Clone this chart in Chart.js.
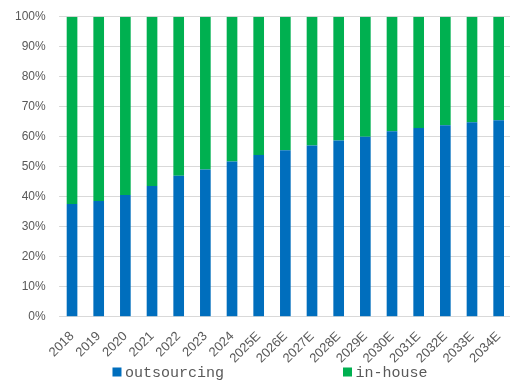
<!DOCTYPE html>
<html>
<head>
<meta charset="utf-8">
<script src="https://cdn.jsdelivr.net/npm/chart.js@4/dist/chart.umd.min.js"></script>
<style>
  html, body { margin: 0; padding: 0; background: #ffffff; }
  #wrap { width: 510px; height: 383px; overflow: hidden; position: relative; }
  canvas { display: block; }
</style>
</head>
<body>
<div id="wrap"><canvas id="c" width="514" height="383"></canvas></div>
<script>
// Share of outsourcing vs in-house, percent of total
const years = ['2018', '2019', '2020', '2021', '2022', '2023', '2024', '2025E', '2026E',
  '2027E', '2028E', '2029E', '2030E', '2031E', '2032E', '2033E', '2034E'];
const outsourcing = [37.6, 38.6, 40.6, 43.6, 47.0, 49.1, 51.7, 53.9, 55.5,
  57.1, 58.7, 60.0, 61.8, 62.9, 63.8, 64.8, 65.5];
const inHouse = [62.4, 61.4, 59.4, 56.4, 53.0, 50.9, 48.3, 46.1, 44.5,
  42.9, 41.3, 40.0, 38.2, 37.1, 36.2, 35.2, 34.5];
const yTicks = [0, 10, 20, 30, 40, 50, 60, 70, 80, 90, 100];

const BLUE = '#006EBD';
const GREEN = '#00B050';
const TEXT = '#595959';

// Legend drawn along the bottom edge: square marker + monospace label
const bottomLegend = {
  id: 'bottomLegend',
  afterDraw(chart, args, opts) {
    const ctx = chart.ctx;
    ctx.save();
    ctx.font = opts.font;
    ctx.textBaseline = 'middle';
    ctx.textAlign = 'left';
    const items = chart.data.datasets.map(ds => ({
      text: ds.label, color: ds.backgroundColor,
      w: opts.box + opts.textGap + ctx.measureText(ds.label).width
    }));
    const total = items.reduce((s, it) => s + it.w, 0) + opts.itemGap * (items.length - 1);
    let x = opts.centerX - total / 2;
    items.forEach(it => {
      ctx.fillStyle = it.color;
      ctx.fillRect(x, opts.y - opts.box / 2, opts.box, opts.box);
      ctx.fillStyle = opts.color;
      ctx.fillText(it.text, x + opts.box + opts.textGap, opts.y + 1);
      x += it.w + opts.itemGap;
    });
    ctx.restore();
  }
};

new Chart(document.getElementById('c'), {
  type: 'bar',
  data: {
    labels: years,
    datasets: [
      { label: 'outsourcing', data: outsourcing, backgroundColor: BLUE },
      { label: 'in-house', data: inHouse, backgroundColor: GREEN }
    ]
  },
  options: {
    responsive: false,
    devicePixelRatio: 1,
    animation: false,
    layout: { padding: { left: 0, right: 2, top: 16.7, bottom: 18.3 } },
    datasets: { bar: { categoryPercentage: 1, barPercentage: 0.4 } },
    plugins: {
      legend: { display: false },
      tooltip: { enabled: false },
      bottomLegend: {
        font: '15px "Liberation Mono", monospace',
        color: TEXT, box: 9, textGap: 3.5, itemGap: 119, centerX: 270, y: 372
      }
    },
    scales: {
      x: {
        stacked: true,
        grid: { display: false, drawTicks: false },
        border: { display: false },
        ticks: {
          color: TEXT, font: { family: '"Liberation Sans", Arial, sans-serif', size: 13 },
          minRotation: 45, maxRotation: 45, padding: 12, autoSkip: false
        },
        afterFit(scale) {
          scale.height = 48;
          scale.paddingLeft = 0;
          scale.paddingRight = 0;
        }
      },
      y: {
        stacked: true,
        min: 0, max: 100,
        afterBuildTicks(scale) { scale.ticks = yTicks.map(v => ({ value: v })); },
        grid: { color: '#d9d9d9', lineWidth: 1, drawTicks: false },
        border: { display: false },
        ticks: {
          color: TEXT, font: { family: '"Liberation Sans", Arial, sans-serif', size: 12 },
          padding: 13,
          callback: v => v + '%'
        },
        afterFit(scale) {
          scale.width = 58.7;
          scale.paddingTop = 0;
          scale.paddingBottom = 0;
        }
      }
    }
  },
  plugins: [bottomLegend]
});
</script>
</body>
</html>
